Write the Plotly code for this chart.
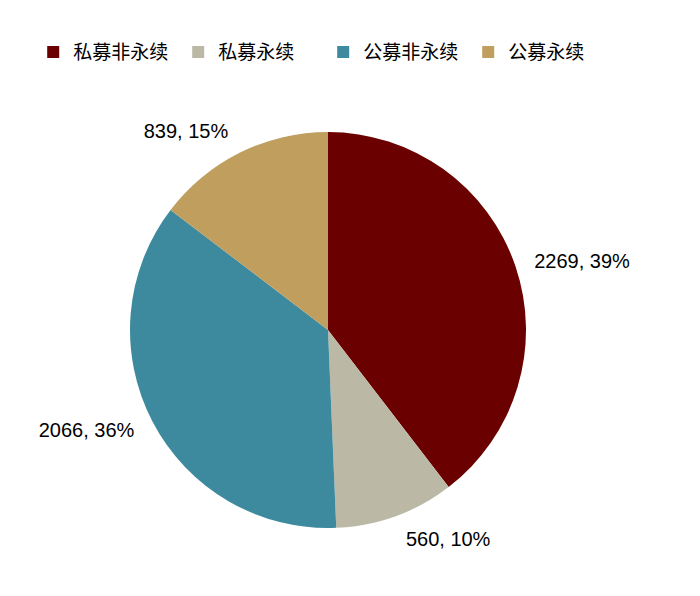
import plotly.graph_objects as go

labels = ["私募非永续", "私募永续", "公募非永续", "公募永续"]
values = [2269, 560, 2066, 839]
pct = [39, 10, 36, 15]
colors = ["#6B0000", "#BBB9A6", "#3D8A9E", "#BF9E5E"]

text = [f"{v}, {p}%" for v, p in zip(values, pct)]

W, H = 700, 596
cx, cy = 320, 274   # pie centre in px (y from bottom)
r_pie, r_lab = 198, 212


def dom(r):
    return dict(x=[(cx - r) / W, (cx + r) / W], y=[(cy - r) / H, (cy + r) / H])


fig = go.Figure()
# the pie itself
fig.add_trace(
    go.Pie(
        labels=labels,
        values=values,
        textinfo="none",
        sort=False,
        direction="clockwise",
        rotation=0,
        marker=dict(colors=colors, line=dict(width=0)),
        domain=dom(r_pie),
        automargin=False,
        hoverinfo="label+value",
    )
)
# a transparent copy, slightly larger, that carries the outside labels
fig.add_trace(
    go.Pie(
        labels=labels,
        values=values,
        text=text,
        textinfo="text",
        textposition="outside",
        sort=False,
        direction="clockwise",
        rotation=0,
        marker=dict(colors=["rgba(0,0,0,0)"] * 4, line=dict(width=0)),
        textfont=dict(size=20, color="#000000"),
        domain=dom(r_lab),
        automargin=False,
        showlegend=False,
        hoverinfo="skip",
    )
)

fig.update_layout(
    width=W,
    height=H,
    margin=dict(l=0, r=0, t=0, b=0),
    paper_bgcolor="white",
    font=dict(family="Liberation Sans, Noto Sans CJK SC, sans-serif", color="#000000"),
    legend=dict(
        orientation="h",
        x=0.036,
        xanchor="left",
        y=0.958,
        yanchor="top",
        font=dict(size=19, family="Noto Sans CJK SC, sans-serif"),
        entrywidth=100,
        entrywidthmode="pixels",
        traceorder="normal",
    ),
)

fig.write_html("out.html")
